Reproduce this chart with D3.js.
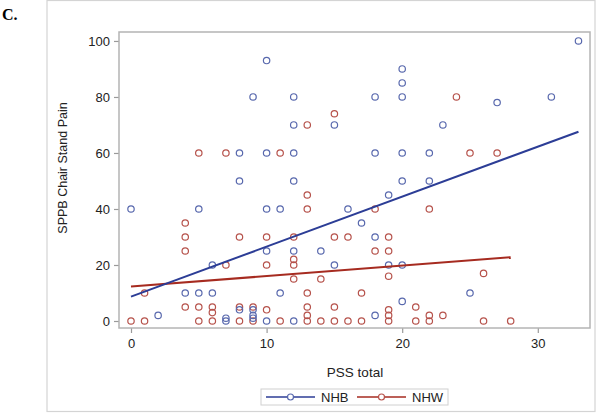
<!DOCTYPE html>
<html>
<head>
<meta charset="utf-8">
<script src="https://cdn.jsdelivr.net/npm/d3@7"></script>
<style>
  body { margin: 0; background: #fff; }
  text { font-family: "Liberation Sans", Arial, sans-serif; fill: #222; }
</style>
</head>
<body>
<div id="chart"></div>
<script>
// data: [PSS total, SPPB chair stand pain]
let nhbPoints = [
    [0, 40], [2, 2], [4, 10], [5, 10], [6, 10], [5, 40], [6, 20], [7, 1], [7, 0],
    [8, 60], [8, 50], [8, 4], [9, 80], [9, 4], [9, 2], [9, 1],
    [10, 93], [10, 60], [10, 40], [10, 25], [10, 0], [11, 40], [11, 10],
    [12, 80], [12, 70], [12, 60], [12, 50], [12, 25], [12, 0], [14, 25],
    [15, 70], [15, 20], [16, 40], [17, 35], [18, 80], [18, 60], [18, 30], [18, 2],
    [19, 45], [19, 20], [20, 90], [20, 85], [20, 80], [20, 60], [20, 50], [20, 20], [20, 7],
    [22, 60], [22, 50], [23, 70], [25, 10], [27, 78], [31, 80], [33, 100]
];
let nhwPoints = [
    [0, 0], [1, 0], [1, 10], [4, 35], [4, 30], [4, 25], [4, 5],
    [5, 60], [5, 5], [5, 0], [6, 5], [6, 3], [6, 0], [7, 60], [7, 20],
    [8, 30], [8, 5], [8, 0], [9, 5], [9, 0], [10, 30], [10, 20], [10, 4],
    [11, 60], [11, 0], [12, 30], [12, 22], [12, 20], [12, 15],
    [13, 70], [13, 45], [13, 40], [13, 10], [13, 5], [13, 2], [13, 0],
    [14, 15], [14, 0], [15, 74], [15, 30], [15, 5], [15, 0], [16, 30], [16, 0],
    [17, 10], [17, 0], [18, 40], [18, 25], [19, 30], [19, 25], [19, 16], [19, 4], [19, 2], [19, 0],
    [21, 5], [21, 0], [22, 40], [22, 2], [22, 0], [23, 2], [24, 80], [25, 60],
    [26, 17], [26, 0], [27, 60], [28, 0]
];
// fitted lines, end points
let nhbFit = [[0, 8.7], [33, 67.6]];
let nhwFit = [[0, 12.3], [28, 22.8]];

let xTicks = [0, 10, 20, 30];
let yTicks = [0, 20, 40, 60, 80, 100];
let groups = ["NHB", "NHW"];

let svgWidth = 600;
let svgHeight = 415;

let plot = { left: 119, top: 32, right: 590, bottom: 328 };

let markerColor = { NHB: "#5868ad", NHW: "#b6524b" };
let lineColor = { NHB: "#2c3d96", NHW: "#a62b20" };

var svg = d3.select("#chart")
    .append("svg")
    .attr("width", svgWidth)
    .attr("height", svgHeight);

// outer frame
svg.append("rect")
    .attr("x", 47)
    .attr("y", 0.5)
    .attr("width", 548)
    .attr("height", 411)
    .attr("fill", "none")
    .attr("stroke", "#d4d4d4")
    .attr("stroke-width", 1.2);

// panel letter
svg.append("text")
    .attr("x", 2)
    .attr("y", 20)
    .style("font-family", "'Liberation Serif', 'Times New Roman', serif")
    .style("font-weight", "bold")
    .style("font-size", "16px")
    .style("fill", "#000")
    .text("C.");

// scales
var xScale = d3.scaleLinear()
    .domain([-0.885, 33.85])
    .range([plot.left, plot.right]);

var yScale = d3.scaleLinear()
    .domain([-2.5, 103.2])
    .range([plot.bottom, plot.top]);

// axes
var xAxis = svg.append("g")
    .attr("transform", `translate(0, ${plot.bottom})`)
    .call(d3.axisBottom(xScale).tickValues(xTicks).tickSize(5).tickPadding(6));

var yAxis = svg.append("g")
    .attr("transform", `translate(${plot.left}, 0)`)
    .call(d3.axisLeft(yScale).tickValues(yTicks).tickSize(5).tickPadding(4));

[xAxis, yAxis].forEach(function(ax) {
    ax.select(".domain").remove();
    ax.selectAll("line").attr("stroke", "#9a9a9a").attr("stroke-width", 1.2);
    ax.selectAll("text").style("font-size", "13px").style("fill", "#222");
});

// plot frame
svg.append("rect")
    .attr("x", plot.left)
    .attr("y", plot.top)
    .attr("width", plot.right - plot.left)
    .attr("height", plot.bottom - plot.top)
    .attr("fill", "none")
    .attr("stroke", "#b4b4b4")
    .attr("stroke-width", 1.5);

// axis labels
svg.append("text")
    .attr("x", 355)
    .attr("y", 377)
    .attr("text-anchor", "middle")
    .style("font-size", "13.5px")
    .text("PSS total");

svg.append("text")
    .attr("transform", "translate(67, 168) rotate(-90)")
    .attr("text-anchor", "middle")
    .style("font-size", "12.5px")
    .text("SPPB Chair Stand Pain");

// points
function drawPoints(data, group) {
    svg.append("g")
        .selectAll("circle")
        .data(data)
        .enter()
        .append("circle")
        .attr("cx", d => xScale(d[0]))
        .attr("cy", d => yScale(d[1]))
        .attr("r", 3.2)
        .attr("fill", "none")
        .attr("stroke", markerColor[group])
        .attr("stroke-width", 1.2);
}
drawPoints(nhwPoints, "NHW");
drawPoints(nhbPoints, "NHB");

// fit lines
var line = d3.line()
    .x(d => xScale(d[0]))
    .y(d => yScale(d[1]));

svg.append("path")
    .datum(nhwFit)
    .attr("d", line)
    .attr("fill", "none")
    .attr("stroke", lineColor.NHW)
    .attr("stroke-width", 2);

svg.append("path")
    .datum(nhbFit)
    .attr("d", line)
    .attr("fill", "none")
    .attr("stroke", lineColor.NHB)
    .attr("stroke-width", 2);

// legend
svg.append("rect")
    .attr("x", 261)
    .attr("y", 389)
    .attr("width", 187)
    .attr("height", 16)
    .attr("fill", "none")
    .attr("stroke", "#d0d0d0")
    .attr("stroke-width", 1);

var legendX = { NHB: 266, NHW: 357 };
groups.forEach(function(g) {
    var lx = legendX[g];
    svg.append("line")
        .attr("x1", lx)
        .attr("x2", lx + 49)
        .attr("y1", 397)
        .attr("y2", 397)
        .attr("stroke", lineColor[g])
        .attr("stroke-width", 1.5);
    svg.append("circle")
        .attr("cx", lx + 24.5)
        .attr("cy", 397)
        .attr("r", 3)
        .attr("fill", "#fff")
        .attr("stroke", markerColor[g])
        .attr("stroke-width", 1.2);
    svg.append("text")
        .attr("x", lx + 55)
        .attr("y", 401.5)
        .style("font-size", "13px")
        .text(g);
});
</script>
</body>
</html>
